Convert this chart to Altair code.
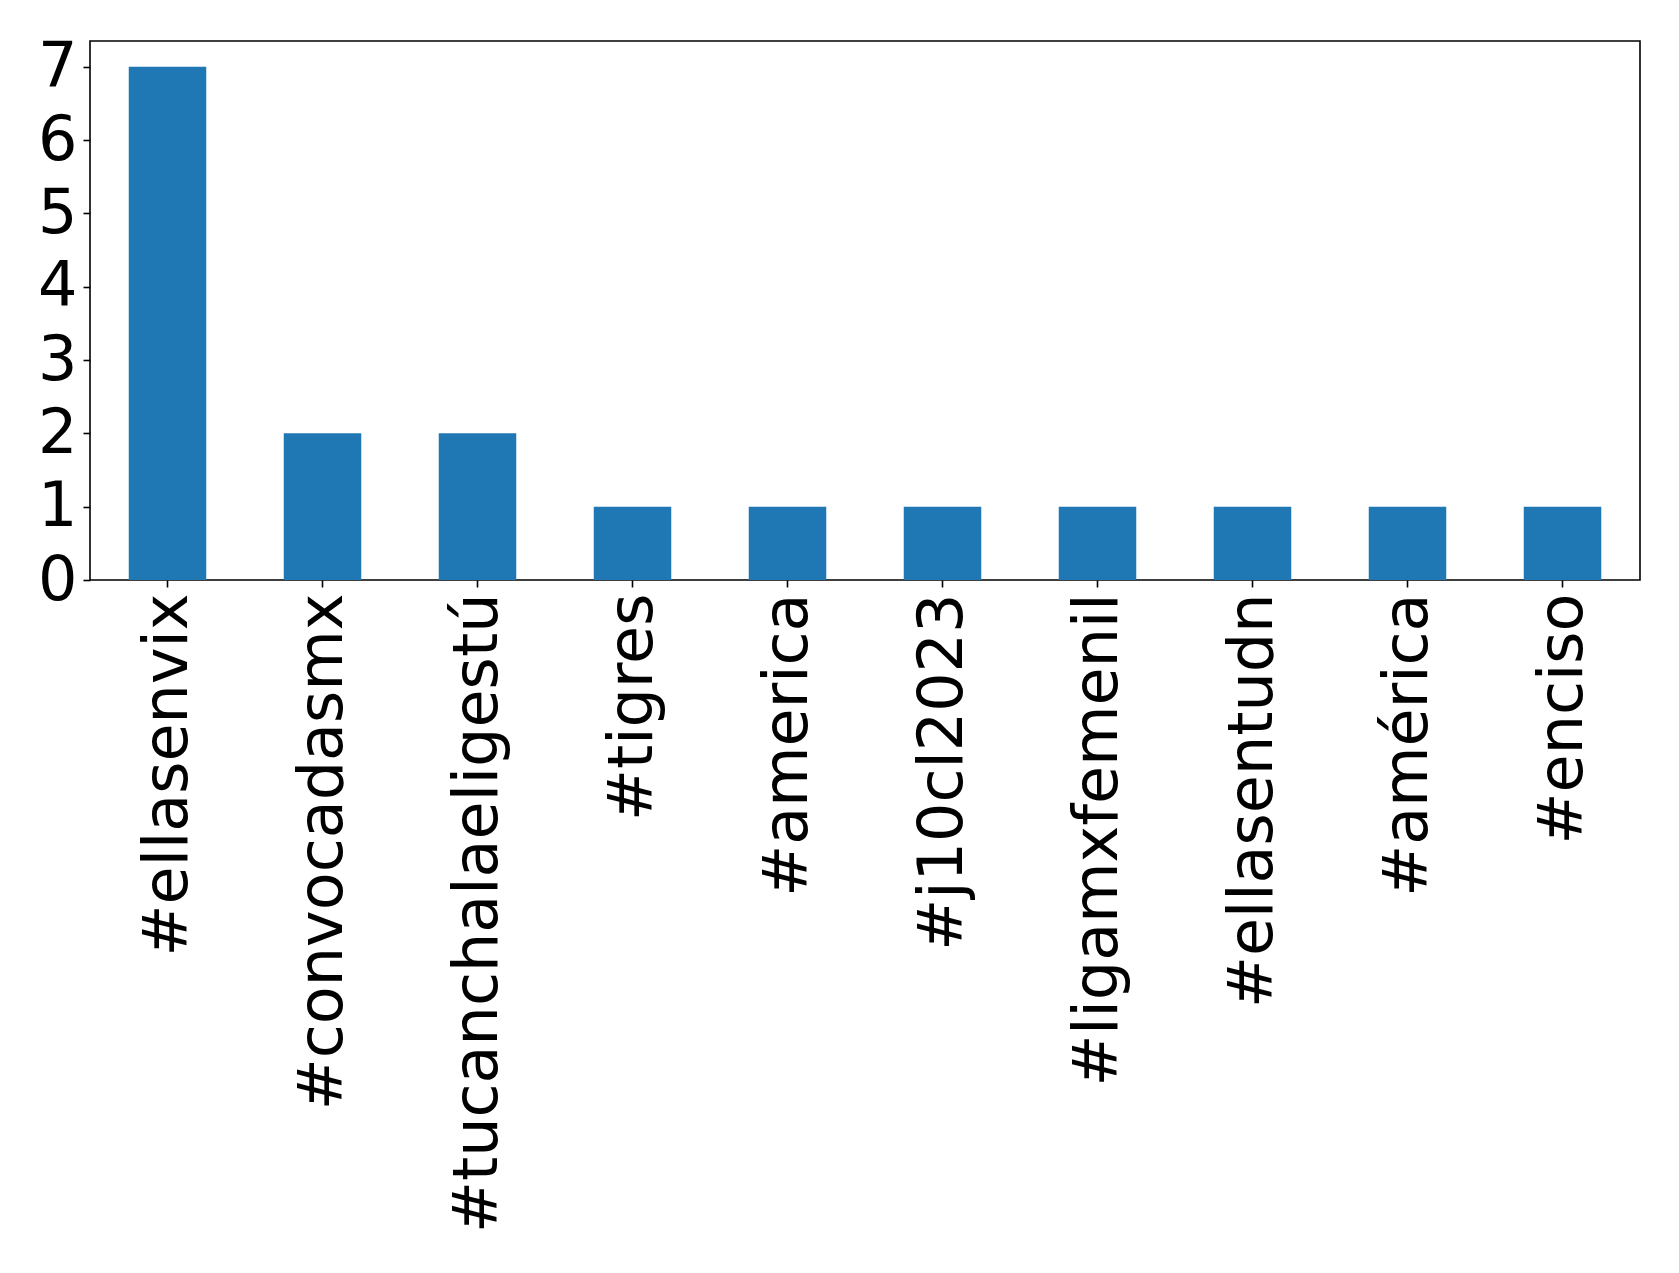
import altair as alt
import pandas as pd

hashtags = ["#ellasenvix", "#convocadasmx", "#tucanchalaeligestú", "#tigres", "#america",
            "#j10cl2023", "#ligamxfemenil", "#ellasentudn", "#américa", "#enciso"]
counts = [7, 2, 2, 1, 1, 1, 1, 1, 1, 1]

df = pd.DataFrame({"hashtag": hashtags, "count": counts})

chart = alt.Chart(df).mark_bar(color="#1f77b4").encode(
    x=alt.X("hashtag:N", sort=hashtags, title=None,
            scale=alt.Scale(paddingInner=0.5, paddingOuter=0.25),
            axis=alt.Axis(labelAngle=-90, labelFontSize=62, labelFont="DejaVu Sans",
                          labelColor="black", tickColor="black", tickSize=7, tickWidth=1.6,
                          labelPadding=6, domain=False, labelLimit=0)),
    y=alt.Y("count:Q", title=None,
            scale=alt.Scale(domain=[0, 7.35], nice=False),
            axis=alt.Axis(values=[0, 1, 2, 3, 4, 5, 6, 7], labelFontSize=62, labelFont="DejaVu Sans",
                          labelColor="black", tickColor="black", tickSize=7, tickWidth=1.6,
                          labelPadding=6, domain=False, grid=False)),
).properties(
    width=1550, height=539,
    autosize=alt.AutoSizeParams(type="none"),
    padding={"left": 82, "top": 33, "right": 30, "bottom": 680},
).configure_view(stroke="black", strokeWidth=1.6)

chart.save("out.html", embed_options={"renderer": "svg", "actions": False})
